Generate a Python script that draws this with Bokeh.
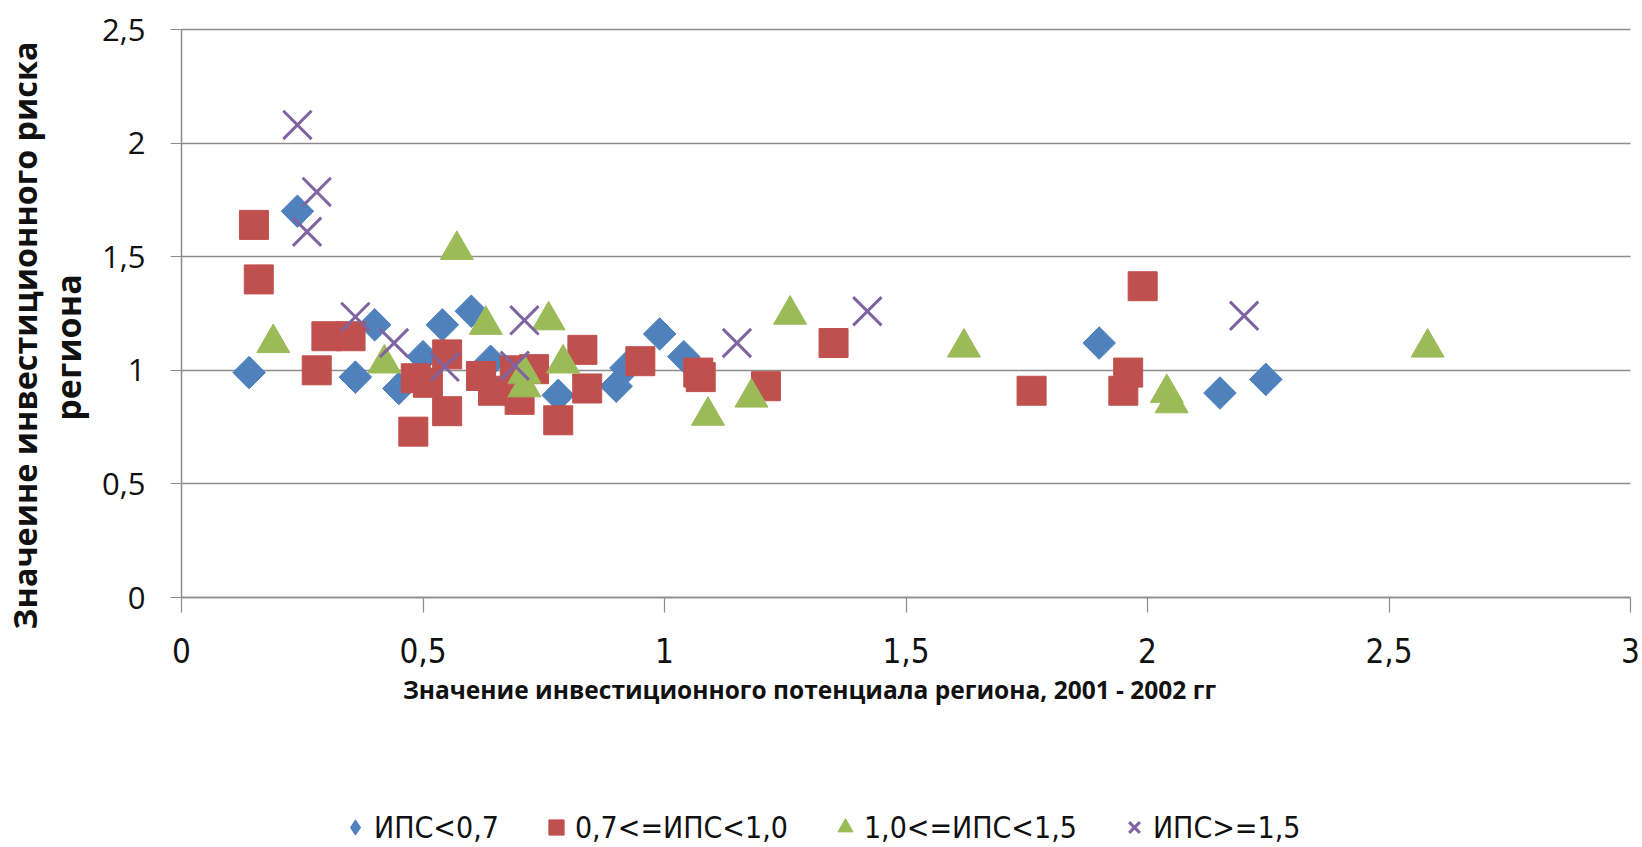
import math
from bokeh.plotting import figure
from bokeh.models import Range1d, FixedTicker, Legend, LegendItem, ColumnDataSource, Label
from bokeh.embed import file_html
from bokeh.resources import INLINE

# ---- data ----
blue_x = [0.14, 0.24, 0.36, 0.40, 0.45, 0.50, 0.54, 0.60, 0.64, 0.78, 0.90, 0.92, 0.99, 1.04, 1.90, 2.15, 2.245]
blue_y = [0.99, 1.70, 0.97, 1.20, 0.92, 1.06, 1.20, 1.26, 1.04, 0.89, 0.93, 1.01, 1.16, 1.06, 1.12, 0.90, 0.96]

red_x = [0.15, 0.16, 0.28, 0.30, 0.35, 0.48, 0.485, 0.51, 0.55, 0.55, 0.62, 0.645, 0.69, 0.70,
         0.73, 0.78, 0.83, 0.84, 0.95, 1.07, 1.075, 1.21, 1.35, 1.76, 1.95, 1.96, 1.99]
red_y = [1.64, 1.40, 1.00, 1.15, 1.15, 0.73, 0.965, 0.945, 1.07, 0.82, 0.975, 0.91, 1.00, 0.87,
         1.005, 0.78, 1.09, 0.92, 1.04, 0.99, 0.97, 0.93, 1.12, 0.91, 0.91, 0.99, 1.37]

green_x = [0.19, 0.42, 0.57, 0.63, 0.71, 0.71, 0.76, 0.79, 1.09, 1.18, 1.26, 1.62, 2.04, 2.05, 2.58]
green_y = [1.12, 1.03, 1.53, 1.20, 0.985, 0.925, 1.22, 1.03, 0.80, 0.88, 1.245, 1.10, 0.90, 0.855, 1.10]

purple_x = [0.24, 0.28, 0.26, 0.36, 0.44, 0.545, 0.69, 0.71, 1.15, 1.42, 2.20]
purple_y = [2.08, 1.785, 1.61, 1.235, 1.12, 1.015, 1.02, 1.22, 1.12, 1.26, 1.24]

series_names = ["ИПС<0,7", "0,7<=ИПС<1,0", "1,0<=ИПС<1,5", "ИПС>=1,5"]

x_ticks = [0, 0.5, 1, 1.5, 2, 2.5, 3]
x_tick_labels = ["0", "0,5", "1", "1,5", "2", "2,5", "3"]
y_ticks = [0, 0.5, 1, 1.5, 2, 2.5]
y_tick_labels = ["0", "0,5", "1", "1,5", "2", "2,5"]

x_title = "Значение инвестиционного потенциала региона, 2001 - 2002 гг"
y_title_1 = "Значеине инвестиционного риска"
y_title_2 = "региона"

# ---- layout (pixels on the canvas) ----
W, H = 1640, 845
PL, PR, PT, PB = 181, 1630, 29, 597
ppx = (PR - PL) / (x_ticks[-1] - x_ticks[0])
ppy = (PB - PT) / (y_ticks[-1] - y_ticks[0])
xr = Range1d(x_ticks[0] - PL / ppx, x_ticks[-1] + (W - PR) / ppx)
yr = Range1d(y_ticks[0] - (H - PB) / ppy, y_ticks[-1] + PT / ppy)

# ---- styling ----
BLUE, RED, GREEN, PURPLE = "#4F81BD", "#C0504D", "#9BBB59", "#8064A2"
GRID = "#8c8c8c"
NARROW = "DejaVu Sans Condensed"
TXT = "#111111"

p = figure(frame_width=W, frame_height=H, min_border=0, title=None,
           x_range=xr, y_range=yr, output_backend="svg", toolbar_location=None)
p.outline_line_color = None
p.background_fill_color = "white"
p.border_fill_color = "white"

p.xgrid.visible = False
grid_ok = True
try:
    p.ygrid.cross_bounds = (x_ticks[0], x_ticks[-1])
except Exception:
    grid_ok = False
if grid_ok:
    p.ygrid.ticker = FixedTicker(ticks=y_ticks)
    p.ygrid.grid_line_color = GRID
    p.ygrid.grid_line_width = 1.5
else:
    p.ygrid.visible = False
    p.segment(x0=x_ticks[0], x1=x_ticks[-1], y0=y_ticks, y1=y_ticks,
              line_color=GRID, line_width=1.5, level="underlay")

for ax in (p.xaxis[0], p.yaxis[0]):
    ax.fixed_location = 0
    ax.axis_line_color = GRID
    ax.axis_line_width = 1.5
    ax.major_tick_line_color = GRID
    ax.major_tick_line_width = 1.2
    ax.major_tick_in = 0
    ax.minor_tick_line_color = None
    ax.major_label_text_color = TXT

p.xaxis.bounds = (x_ticks[0], x_ticks[-1])
p.xaxis.ticker = FixedTicker(ticks=x_ticks)
p.xaxis.major_label_overrides = dict(zip(x_ticks, x_tick_labels))
p.xaxis.major_tick_out = 15
p.xaxis.major_label_standoff = 25
p.xaxis.major_label_text_font = NARROW
p.xaxis.major_label_text_font_size = "33px"

p.yaxis.bounds = (y_ticks[0], y_ticks[-1])
p.yaxis.ticker = FixedTicker(ticks=y_ticks)
p.yaxis.major_label_overrides = dict(zip(y_ticks, y_tick_labels))
p.yaxis.major_tick_out = 11
p.yaxis.major_label_standoff = 25
p.yaxis.major_label_text_font = "Open Sans"
p.yaxis.major_label_text_font_size = "31px"

src_b = ColumnDataSource(dict(x=blue_x, y=blue_y))
src_r = ColumnDataSource(dict(x=red_x, y=red_y))
src_g = ColumnDataSource(dict(x=green_x, y=green_y))
src_p = ColumnDataSource(dict(x=purple_x, y=purple_y))

# narrow diamond used as the legend key of the first series; it lies fully
# underneath the (larger) rotated-square markers drawn on top of it
key_b = p.scatter("x", "y", source=src_b, marker="diamond", size=28,
                  fill_color=BLUE, line_color=BLUE)
r_b = p.scatter("x", "y", source=src_b, marker="square", angle=math.pi / 4, size=23,
                fill_color=BLUE, line_color=BLUE, line_width=1)
r_r = p.scatter("x", "y", source=src_r, marker="square", size=29,
                fill_color=RED, line_color=RED, line_width=1)
r_g = p.scatter("x", "y", source=src_g, marker="triangle", size=33,
                fill_color=GREEN, line_color=GREEN, line_width=1)
r_p = p.scatter("x", "y", source=src_p, marker="x", size=40,
                line_color=PURPLE, line_width=3)

legend = Legend(items=[LegendItem(label=series_names[0], renderers=[key_b]),
                       LegendItem(label=series_names[1], renderers=[r_r]),
                       LegendItem(label=series_names[2], renderers=[r_g]),
                       LegendItem(label=series_names[3], renderers=[r_p])],
                orientation="horizontal", location=(336, -1))
legend.label_text_font = NARROW
legend.label_text_font_size = "30px"
legend.label_text_color = TXT
legend.glyph_width = 38
legend.glyph_height = 38
legend.label_height = 20
legend.label_standoff = 0
legend.spacing = 38
legend.padding = 0
legend.margin = 0
legend.border_line_color = None
legend.background_fill_alpha = 0
p.add_layout(legend)

p.add_layout(Label(x=809, y=H - 689, x_units="screen", y_units="screen", text=x_title,
                   text_align="center", text_baseline="middle", text_font="Open Sans",
                   text_font_style="bold", text_font_size="24.5px", text_color=TXT))
p.add_layout(Label(x=23, y=H - 335, x_units="screen", y_units="screen", text=y_title_1,
                   angle=math.pi / 2, text_align="center", text_baseline="middle",
                   text_font="Open Sans", text_font_style="bold", text_font_size="32.3px",
                   text_color=TXT))
p.add_layout(Label(x=67, y=H - 347, x_units="screen", y_units="screen", text=y_title_2,
                   angle=math.pi / 2, text_align="center", text_baseline="middle",
                   text_font="Open Sans", text_font_style="bold", text_font_size="34px",
                   text_color=TXT))

open("out.html", "w").write(file_html(p, INLINE))
